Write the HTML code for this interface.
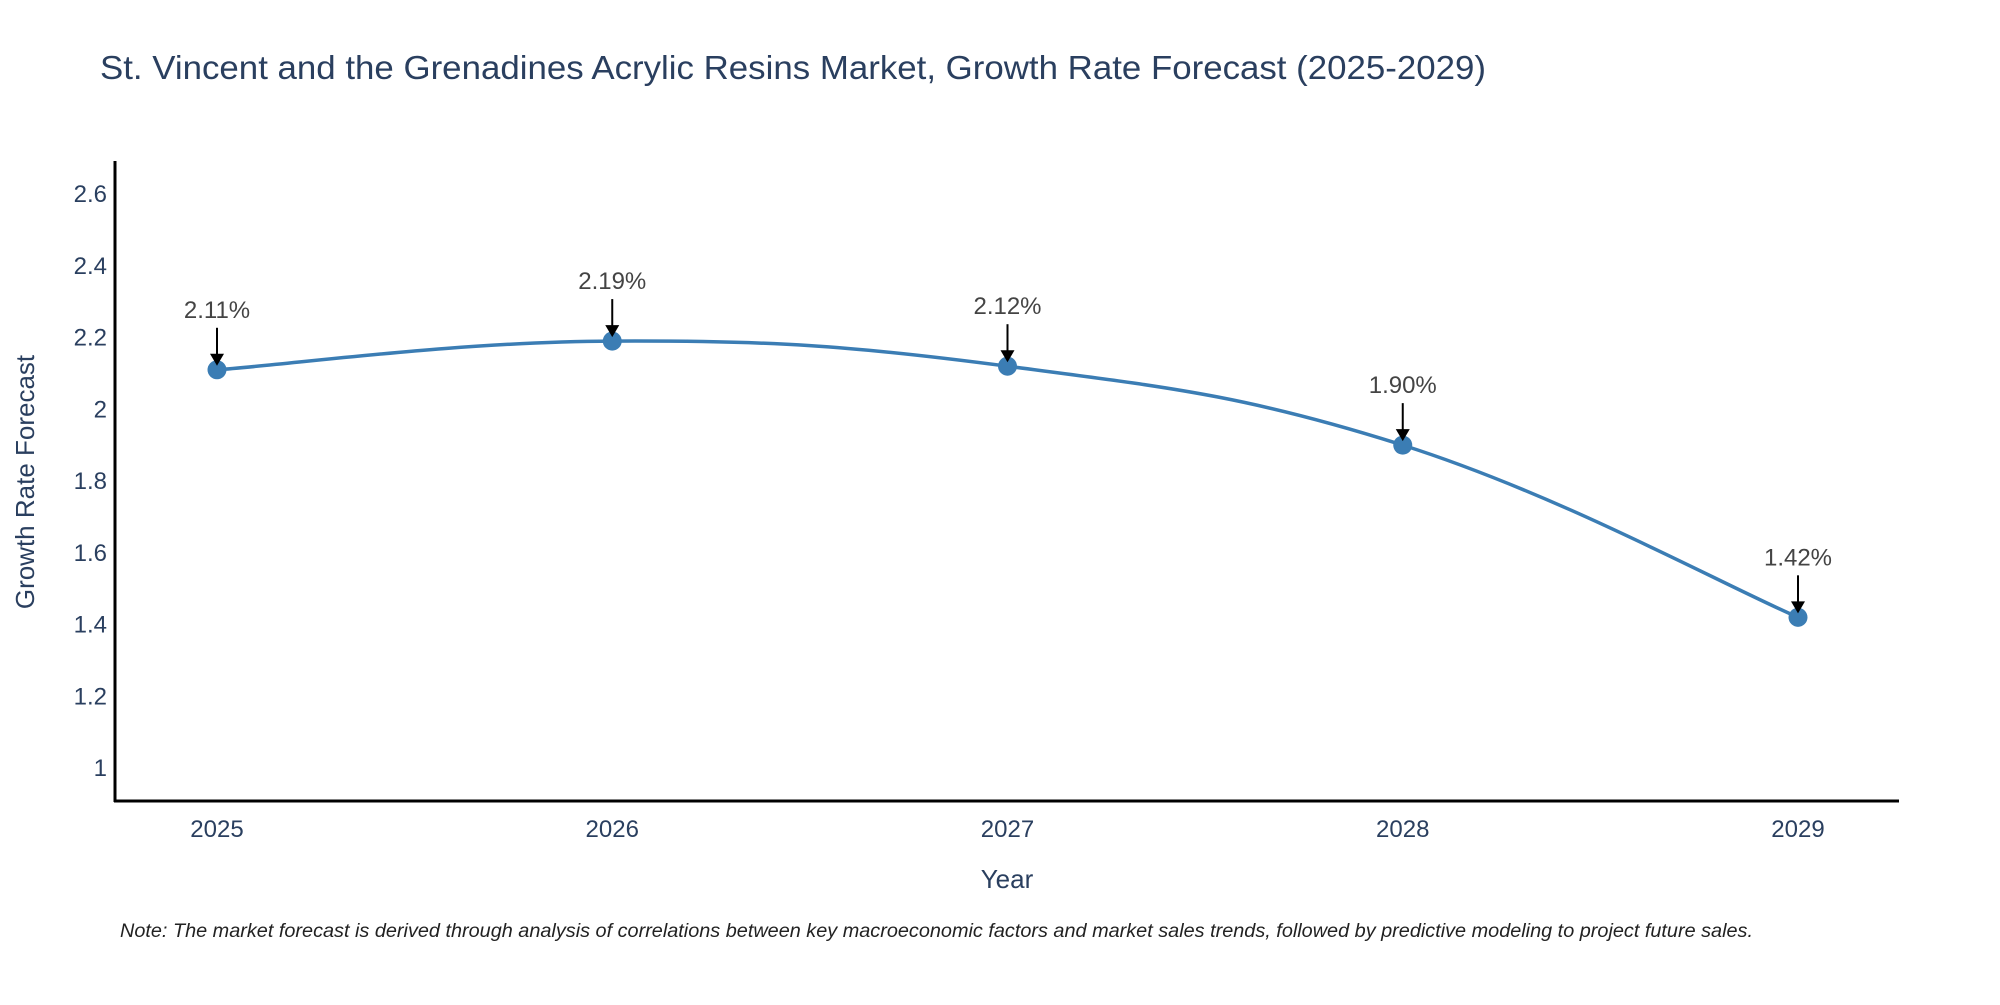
<!DOCTYPE html>
<html><head><meta charset="utf-8"><style>
body{margin:0;background:#fff;}
svg text{font-family:"Liberation Sans",sans-serif;}
</style></head><body>
<svg id="chart" width="2000" height="1000" viewBox="0 0 2000 1000" xmlns="http://www.w3.org/2000/svg">
<text x="100" y="79" font-size="33" fill="#2a3f5f" textLength="1386" lengthAdjust="spacingAndGlyphs">St. Vincent and the Grenadines Acrylic Resins Market, Growth Rate Forecast (2025-2029)</text>
<g id="yticks"></g>
<g id="xticks"></g>
<line x1="115" y1="161" x2="115" y2="802" stroke="#000" stroke-width="3"/>
<line x1="114" y1="801" x2="1899" y2="801" stroke="#000" stroke-width="3"/>
<text transform="translate(34,482) rotate(-90)" text-anchor="middle" font-size="26" fill="#2a3f5f">Growth Rate Forecast</text>
<text x="1007" y="888" text-anchor="middle" font-size="26" fill="#2a3f5f">Year</text>
<g id="series"></g>
<text x="120" y="937" font-size="19" font-style="italic" fill="#222" textLength="1633" lengthAdjust="spacingAndGlyphs">Note: The market forecast is derived through analysis of correlations between key macroeconomic factors and market sales trends, followed by predictive modeling to project future sales.</text>
</svg>
<script>
const years = [2025, 2026, 2027, 2028, 2029];
const growth = [2.11, 2.19, 2.12, 1.90, 1.42];
const yTickValues = [1, 1.2, 1.4, 1.6, 1.8, 2, 2.2, 2.4, 2.6];
const yTickLabels = ["1", "1.2", "1.4", "1.6", "1.8", "2", "2.2", "2.4", "2.6"];

const NS = "http://www.w3.org/2000/svg";
function xScale(yr){ return 217 + (yr - 2025) * 395.25; }
function yScale(v){ return 768 - (v - 1) * 358.75; }
function mk(tag, attrs, parent){ const e = document.createElementNS(NS, tag); for (const k in attrs) e.setAttribute(k, attrs[k]); parent.appendChild(e); return e; }

const yg = document.getElementById('yticks');
yTickValues.forEach((v, i) => {
  const t = mk('text', {x: 107, y: yScale(v) + 8, 'text-anchor': 'end', 'font-size': 24, fill: '#2a3f5f'}, yg);
  
  
  t.textContent = yTickLabels[i];
});
const xg = document.getElementById('xticks');
years.forEach(yr => {
  const t = mk('text', {x: xScale(yr), y: 837, 'text-anchor': 'middle', 'font-size': 24, fill: '#2a3f5f'}, xg);
  
  
  t.textContent = String(yr);
});

const sg = document.getElementById('series');
const pts = years.map((yr, i) => [xScale(yr), yScale(growth[i])]);
let d = `M${pts[0][0]},${pts[0][1]}`;
const tension = 0.2;
for (let i = 0; i < pts.length - 1; i++) {
  const p0 = pts[Math.max(0, i - 1)], p1 = pts[i], p2 = pts[i + 1], p3 = pts[Math.min(pts.length - 1, i + 2)];
  const c1 = [p1[0] + (p2[0] - p0[0]) * tension, p1[1] + (p2[1] - p0[1]) * tension];
  const c2 = [p2[0] - (p3[0] - p1[0]) * tension, p2[1] - (p3[1] - p1[1]) * tension];
  d += ` C${c1[0]},${c1[1]} ${c2[0]},${c2[1]} ${p2[0]},${p2[1]}`;
}
const line = mk('path', {d: d, fill: 'none', stroke: '#3b7db4', 'stroke-width': 3.5}, sg);



pts.forEach((p, i) => {
  const c = mk('circle', {cx: p[0], cy: p[1], r: 9.5, fill: '#3b7db4'}, sg);
  
  
  const a = mk('line', {x1: p[0], y1: p[1] - 42, x2: p[0], y2: p[1] - 14, stroke: '#000', 'stroke-width': 2}, sg);
  
  
  const h = mk('polygon', {points: `${p[0]-7},${p[1]-16} ${p[0]+7},${p[1]-16} ${p[0]},${p[1]-4}`, fill: '#000'}, sg);
  
  
  const t = mk('text', {x: p[0], y: p[1] - 52, 'text-anchor': 'middle', 'font-size': 24, fill: '#444'}, sg);
  
  
  t.textContent = growth[i].toFixed(2) + '%';
});
</script>
</body></html>
